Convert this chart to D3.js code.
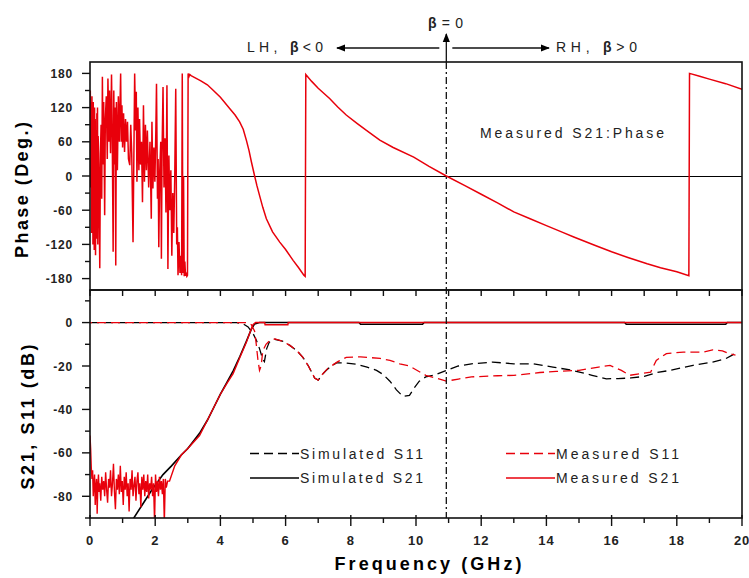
<!DOCTYPE html>
<html>
<head>
<meta charset="utf-8">
<script src="https://cdn.jsdelivr.net/npm/d3@7"></script>
<style>
  body { margin: 0; background: #fff; }
  svg { display: block; font-family: "Liberation Sans", Arial, sans-serif; }
</style>
</head>
<body>
<script>
// measured S21 phase [GHz, deg]
var measPhase = [
  [0.00,100],[0.01,150],[0.02,-20],[0.03,130],[0.04,120],[0.05,-100],[0.06,140],[0.07,-60],
  [0.08,110],[0.09,-120],[0.10,130],[0.11,-40],[0.12,90],[0.13,-130],[0.14,120],[0.15,-80],
  [0.16,100],[0.17,-139],[0.18,60],[0.19,80],[0.20,-110],[0.21,110],[0.22,-30],[0.23,120],
  [0.24,-120],[0.25,70],[0.27,20],[0.30,-162],[0.32,40],[0.34,90],[0.36,-40],[0.38,174],
  [0.40,20],[0.42,130],[0.45,-69],[0.47,100],[0.50,140],[0.53,30],[0.55,171],[0.58,60],
  [0.60,150],[0.63,40],[0.66,178],[0.68,90],[0.71,-133],[0.73,150],[0.75,20],[0.77,120],
  [0.79,-157],[0.81,130],[0.84,10],[0.87,140],[0.90,60],[0.92,120],[0.94,180],[0.96,60],
  [0.98,124],[1.00,50],[1.03,110],[1.06,42],[1.09,100],[1.12,60],[1.15,95],[1.18,30],
  [1.22,19],[1.25,90],[1.28,40],[1.32,-116],[1.35,60],[1.37,180],[1.40,80],[1.42,148],
  [1.44,-10],[1.47,120],[1.50,10],[1.52,100],[1.55,20],[1.58,60],[1.61,-46],[1.64,124],
  [1.67,-10],[1.70,90],[1.73,10],[1.76,80],[1.80,-20],[1.84,60],[1.88,-75],[1.90,95],
  [1.93,-22],[1.96,50],[1.99,-10],[2.02,80],[2.04,162],[2.07,-40],[2.09,30],[2.11,-125],
  [2.14,10],[2.17,60],[2.19,-145],[2.21,40],[2.24,156],[2.27,-20],[2.30,66],[2.33,-64],
  [2.36,159],[2.39,-163],[2.42,36],[2.45,-60],[2.48,10],[2.51,-140],[2.54,-30],[2.57,-100],
  [2.60,0],[2.63,153],[2.66,-120],[2.68,-90],[2.70,-174],[2.73,-116],[2.76,-170],[2.79,-140],
  [2.81,-174],[2.83,180],[2.85,-170],[2.87,0],[2.89,-176],[2.91,-150],[2.93,-175],[2.95,-172],
  [2.97,-176],[2.99,-174],[3.01,180],[3.04,175],[3.06,178],
  [3.1,176],[3.2,173],[3.4,167],[3.6,160],[3.77,151],[4.0,138],[4.29,118],[4.45,107],
  [4.59,95],[4.7,82],[4.8,62],[4.88,44],[4.95,25],[5.05,0],[5.12,-17],[5.2,-34],[5.3,-55],
  [5.41,-75],[5.6,-98],[5.82,-116],[6.0,-129],[6.23,-148],[6.4,-161],[6.56,-174],[6.6,-176],
  [6.62,178],[6.8,166],[7.0,154],[7.35,136],[7.6,121],[7.86,107],[8.2,92],[8.48,80],
  [8.7,71],[8.89,63],[9.3,50],[9.93,33],[10.4,17],[10.93,0],[11.5,-17],[12.0,-32],
  [12.5,-47],[13.0,-63],[13.5,-75],[14.0,-87],[14.5,-99],[14.84,-107],[15.5,-122],
  [16.0,-133],[16.5,-143],[17.09,-154],[17.5,-161],[18.0,-168],[18.37,-175],[18.39,180],
  [18.7,175],[19.0,170],[19.5,162],[20.0,152]
];

// magnitudes [GHz, dB]
var simS11 = [
  [0,0],[4.5,0],[4.7,-0.6],[4.85,-2],[5.0,-5],[5.1,-8],[5.2,-12],[5.3,-17],[5.35,-18],
  [5.42,-12],[5.5,-9],[5.67,-7.7],[5.9,-8.5],[6.13,-10.5],[6.35,-13],[6.53,-16],[6.7,-20],
  [6.89,-25.5],[7.0,-26.5],[7.12,-24],[7.25,-22],[7.4,-20],[7.56,-18.6],[7.8,-18.5],
  [8.17,-19.2],[8.5,-20.5],[8.79,-22],[9.0,-24],[9.2,-27],[9.4,-31],[9.6,-34],[9.8,-33.5],
  [9.95,-30],[10.1,-27],[10.3,-25],[10.6,-24],[10.93,-22],[11.3,-20],[11.7,-19],
  [12.35,-18.2],[13.0,-19],[13.6,-19],[14.2,-20.5],[14.8,-22],[15.4,-24.3],[15.84,-25.9],
  [16.2,-25.8],[16.6,-25.5],[17.0,-24.8],[17.4,-23],[17.8,-22],[18.5,-19.7],[19.1,-18.2],
  [19.5,-16.6],[19.7,-15],[19.85,-13.5]
];

var simS21 = [
  [1.3,-91],[1.6,-84],[1.9,-77],[2.24,-70],[2.5,-66],[2.8,-61],[3.0,-58],[3.36,-51],
  [3.6,-45],[3.8,-39],[4.0,-33],[4.2,-27.5],[4.4,-22],[4.6,-15.5],[4.8,-8.5],[4.95,-3],
  [5.05,-0.6],[5.2,0],[8.25,0],[8.3,-0.8],[10.2,-0.8],[10.25,0],[16.4,0],[16.45,-0.8],
  [19.5,-0.8],[19.55,0],[20,0]
];

var measS11 = [
  [0,0],[4.8,0],[4.95,-1],[5.05,-4],[5.1,-10],[5.15,-17],[5.2,-22],[5.25,-20],[5.3,-13],
  [5.4,-10],[5.5,-8.5],[5.67,-7.5],[5.9,-8.5],[6.13,-10.5],[6.35,-13],[6.53,-16],[6.7,-20],
  [6.89,-25.5],[7.0,-26.5],[7.12,-24],[7.3,-21],[7.6,-18],[7.86,-16],[8.3,-15.8],
  [8.9,-16.5],[9.2,-17.4],[9.5,-19],[9.8,-20],[10.3,-24.3],[10.6,-25.5],[10.93,-27],
  [11.3,-26],[11.7,-25],[12.5,-24.5],[13.0,-24.3],[13.8,-23],[14.3,-22.5],[15.0,-22],
  [15.6,-20.5],[15.95,-19.7],[16.3,-22],[16.55,-24.3],[16.9,-23.5],[17.2,-22.8],
  [17.37,-17.4],[17.68,-14.3],[18.2,-13.6],[18.8,-13.6],[19.1,-12.6],[19.4,-13],
  [19.6,-14.3],[19.8,-15]
];

var measS21 = [
  [0.00,-52],[0.02,-58],[0.04,-67],[0.06,-72],[0.08,-68],[0.10,-80],[0.12,-74],[0.14,-70],
  [0.16,-84],[0.18,-76],[0.20,-72],[0.22,-88],[0.24,-75],[0.26,-70],[0.28,-78],[0.30,-74],
  [0.33,-82],[0.36,-71],[0.39,-77],[0.42,-73],[0.45,-80],[0.48,-69],[0.51,-77],[0.54,-83],
  [0.57,-72],[0.60,-76],[0.63,-68],[0.66,-80],[0.69,-74],[0.72,-65],[0.75,-78],[0.78,-86],
  [0.81,-72],[0.84,-77],[0.87,-70],[0.90,-79],[0.93,-66],[0.96,-78],[0.99,-73],[1.02,-84],
  [1.05,-71],[1.08,-77],[1.11,-69],[1.14,-80],[1.17,-74],[1.20,-87],[1.23,-72],[1.26,-77],
  [1.29,-68],[1.32,-80],[1.35,-75],[1.38,-71],[1.41,-82],[1.44,-73],[1.47,-69],[1.50,-79],
  [1.53,-74],[1.56,-85],[1.59,-71],[1.62,-77],[1.65,-70],[1.68,-80],[1.71,-73],[1.74,-78],
  [1.77,-70],[1.80,-81],[1.83,-74],[1.86,-77],[1.89,-71],[1.92,-80],[1.95,-74],[1.98,-92],
  [2.01,-70],[2.04,-78],[2.07,-73],[2.10,-80],[2.13,-71],[2.16,-77],[2.19,-73],[2.22,-79],
  [2.25,-72],[2.28,-92],[2.31,-72],[2.34,-76],[2.38,-73],[2.44,-73],
  [2.6,-66],[2.8,-61],[3.0,-58],[3.36,-52],[3.6,-45],[3.8,-39],[4.0,-33],[4.2,-28],
  [4.39,-23.5],[4.6,-16],[4.8,-9],[4.92,-4],[5.0,-1],[5.08,0],[5.36,0],[5.37,-1],
  [6.07,-1],[6.08,0],[20,0]
];

var phaseTicks = [-180, -120, -60, 0, 60, 120, 180];
var phaseMinor = [-150, -90, -30, 30, 90, 150];
var dbTicks = [-80, -60, -40, -20, 0];
var dbMinor = [-90, -70, -50, -30, -10, 10];
var freqTicks = [0, 2, 4, 6, 8, 10, 12, 14, 16, 18, 20];
var freqMinor = [1, 3, 5, 7, 9, 11, 13, 15, 17, 19];
var betaZero = 10.93;

var legendItems = [
  { label: 'Simulated S11', color: '#000', dash: '9,5', col: 0, row: 0 },
  { label: 'Simulated S21', color: '#000', dash: null, col: 0, row: 1 },
  { label: 'Measured S11', color: '#e8000b', dash: '9,5', col: 1, row: 0 },
  { label: 'Measured S21', color: '#e8000b', dash: null, col: 1, row: 1 }
];

var svg = d3.select('body').append('svg')
  .attr('width', 749)
  .attr('height', 578);

var left = 90, right = 742, top1 = 62, mid = 290, bottom = 518;

var x = d3.scaleLinear().domain([0, 20]).range([left, right]);
var yP = d3.scaleLinear().domain([-200, 200]).range([mid, top1]);
var yD = d3.scaleLinear().domain([-90, 15]).range([bottom, mid]);

var defs = svg.append('defs');
defs.append('clipPath').attr('id', 'clipTop')
  .append('rect').attr('x', left).attr('y', top1).attr('width', right - left).attr('height', mid - top1);
defs.append('clipPath').attr('id', 'clipBot')
  .append('rect').attr('x', left).attr('y', mid).attr('width', right - left).attr('height', bottom - mid);
defs.append('marker').attr('id', 'arr')
  .attr('viewBox', '0 0 10 10').attr('refX', 9).attr('refY', 5)
  .attr('markerWidth', 7).attr('markerHeight', 7).attr('orient', 'auto')
  .append('path').attr('d', 'M0,1L10,5L0,9Z').attr('fill', '#000');

var red = '#e8000b';

// zero line of phase panel
svg.append('line')
  .attr('x1', left).attr('x2', right)
  .attr('y1', Math.round(yP(0)) + 0.5).attr('y2', Math.round(yP(0)) + 0.5)
  .attr('stroke', '#000').attr('stroke-width', 1.2);

var linePhase = d3.line().x(function(d) { return x(d[0]); }).y(function(d) { return yP(d[1]); });
var lineDb = d3.line().x(function(d) { return x(d[0]); }).y(function(d) { return yD(d[1]); });

svg.append('g').attr('clip-path', 'url(#clipTop)')
  .append('path')
  .attr('d', linePhase(measPhase))
  .attr('fill', 'none')
  .attr('stroke', red)
  .attr('stroke-width', 1.5);

var gb = svg.append('g').attr('clip-path', 'url(#clipBot)');
gb.append('path').attr('d', lineDb(simS11))
  .attr('fill', 'none').attr('stroke', '#000').attr('stroke-width', 1.3).attr('stroke-dasharray', '9,5');
gb.append('path').attr('d', lineDb(simS21))
  .attr('fill', 'none').attr('stroke', '#000').attr('stroke-width', 1.6);
gb.append('path').attr('d', lineDb(measS11))
  .attr('fill', 'none').attr('stroke', red).attr('stroke-width', 1.3).attr('stroke-dasharray', '9,5')
  .attr('stroke-dashoffset', 7);
gb.append('path').attr('d', lineDb(measS21))
  .attr('fill', 'none').attr('stroke', red).attr('stroke-width', 1.4);

// frames
[[top1, mid], [mid, bottom]].forEach(function(p) {
  svg.append('rect')
    .attr('x', left).attr('y', p[0])
    .attr('width', right - left).attr('height', p[1] - p[0])
    .attr('fill', 'none').attr('stroke', '#111').attr('stroke-width', 1.6);
});

// y axes
function yAxis(scale, major, minor) {
  var g = svg.append('g');
  g.selectAll('.mj').data(major).enter().append('line')
    .attr('x1', left - 8).attr('x2', left)
    .attr('y1', function(d) { return scale(d); }).attr('y2', function(d) { return scale(d); })
    .attr('stroke', '#111').attr('stroke-width', 1.4);
  g.selectAll('.mn').data(minor).enter().append('line')
    .attr('x1', left - 5).attr('x2', left)
    .attr('y1', function(d) { return scale(d); }).attr('y2', function(d) { return scale(d); })
    .attr('stroke', '#111').attr('stroke-width', 1.4);
  g.selectAll('text').data(major).enter().append('text')
    .attr('x', 73).attr('y', function(d) { return scale(d) + 4.5; })
    .attr('text-anchor', 'end')
    .style('font-size', '12px').style('font-weight', 'bold').style('letter-spacing', '0.8px')
    .attr('fill', '#222')
    .text(function(d) { return d; });
}
yAxis(yP, phaseTicks, phaseMinor);
yAxis(yD, dbTicks, dbMinor);

// x ticks
var gx = svg.append('g');
gx.selectAll('.top').data(freqTicks.concat(freqMinor)).enter().append('line')
  .attr('x1', function(d) { return x(d); }).attr('x2', function(d) { return x(d); })
  .attr('y1', mid).attr('y2', mid + 6)
  .attr('stroke', '#111').attr('stroke-width', 1.4);
gx.selectAll('.mj').data(freqTicks).enter().append('line')
  .attr('x1', function(d) { return x(d); }).attr('x2', function(d) { return x(d); })
  .attr('y1', bottom - 3).attr('y2', bottom + 8)
  .attr('stroke', '#111').attr('stroke-width', 1.4);
gx.selectAll('.mn').data(freqMinor).enter().append('line')
  .attr('x1', function(d) { return x(d); }).attr('x2', function(d) { return x(d); })
  .attr('y1', bottom).attr('y2', bottom + 5)
  .attr('stroke', '#111').attr('stroke-width', 1.4);
gx.selectAll('text').data(freqTicks).enter().append('text')
  .attr('x', function(d) { return x(d); }).attr('y', 545)
  .attr('text-anchor', 'middle')
  .style('font-size', '13px').style('font-weight', 'bold').style('letter-spacing', '0.8px')
  .attr('fill', '#222')
  .text(function(d) { return d; });

// axis titles
svg.append('text')
  .attr('transform', 'translate(28,190) rotate(-90)')
  .attr('text-anchor', 'middle')
  .attr('textLength', 136).attr('lengthAdjust', 'spacing')
  .style('font-size', '18px').style('font-weight', 'bold')
  .text('Phase (Deg.)');
svg.append('text')
  .attr('transform', 'translate(34,417) rotate(-90)')
  .attr('text-anchor', 'middle')
  .attr('textLength', 145).attr('lengthAdjust', 'spacing')
  .style('font-size', '18px').style('font-weight', 'bold')
  .text('S21, S11 (dB)');
svg.append('text')
  .attr('x', 428).attr('y', 570)
  .attr('text-anchor', 'middle')
  .attr('textLength', 187).attr('lengthAdjust', 'spacing')
  .style('font-size', '18px').style('font-weight', 'bold')
  .text('Frequency (GHz)');

// beta = 0 marker
svg.append('line')
  .attr('x1', x(betaZero)).attr('x2', x(betaZero))
  .attr('y1', top1).attr('y2', bottom)
  .attr('stroke', '#111').attr('stroke-width', 1.3).attr('stroke-dasharray', '7,3,2,3');
svg.append('line')
  .attr('x1', x(betaZero)).attr('x2', x(betaZero))
  .attr('y1', top1).attr('y2', 34)
  .attr('stroke', '#111').attr('stroke-width', 1.3).attr('marker-end', 'url(#arr)');
svg.append('line')
  .attr('x1', x(betaZero) - 7).attr('x2', 337)
  .attr('y1', 48).attr('y2', 48)
  .attr('stroke', '#111').attr('stroke-width', 1.3).attr('marker-end', 'url(#arr)');
svg.append('line')
  .attr('x1', x(betaZero) + 6).attr('x2', 549)
  .attr('y1', 48).attr('y2', 48)
  .attr('stroke', '#111').attr('stroke-width', 1.3).attr('marker-end', 'url(#arr)');

function betaLabel(xp, yp, len, before, after) {
  var t = svg.append('text').attr('x', xp).attr('y', yp)
    .attr('textLength', len).attr('lengthAdjust', 'spacing')
    .style('font-size', '14px').attr('fill', '#222');
  t.append('tspan').text(before);
  t.append('tspan').style('font-weight', 'bold').text('\u03b2');
  t.append('tspan').text(after);
}
betaLabel(247, 52, 76, 'LH, ', '<0');
betaLabel(556, 52, 81, 'RH, ', '>0');
betaLabel(428, 28, 35, '', '=0');

svg.append('text')
  .attr('x', 480).attr('y', 138)
  .attr('textLength', 184).attr('lengthAdjust', 'spacing')
  .style('font-size', '14px').attr('fill', '#222')
  .text('Measured S21:Phase');

// legend
var lg = svg.append('g');
var leg = lg.selectAll('g').data(legendItems).enter().append('g')
  .attr('transform', function(d) {
    return 'translate(' + (d.col ? 506 : 250) + ',' + (d.row ? 478 : 453.5) + ')';
  });
leg.append('line')
  .attr('x1', 0).attr('x2', 49).attr('y1', 0).attr('y2', 0)
  .attr('stroke', function(d) { return d.color; })
  .attr('stroke-width', 1.4)
  .attr('stroke-dasharray', function(d) { return d.dash; });
leg.append('text')
  .attr('x', 50).attr('y', 5)
  .attr('textLength', 123).attr('lengthAdjust', 'spacing')
  .style('font-size', '14px').attr('fill', '#222')
  .text(function(d) { return d.label; });
</script>
</body>
</html>
